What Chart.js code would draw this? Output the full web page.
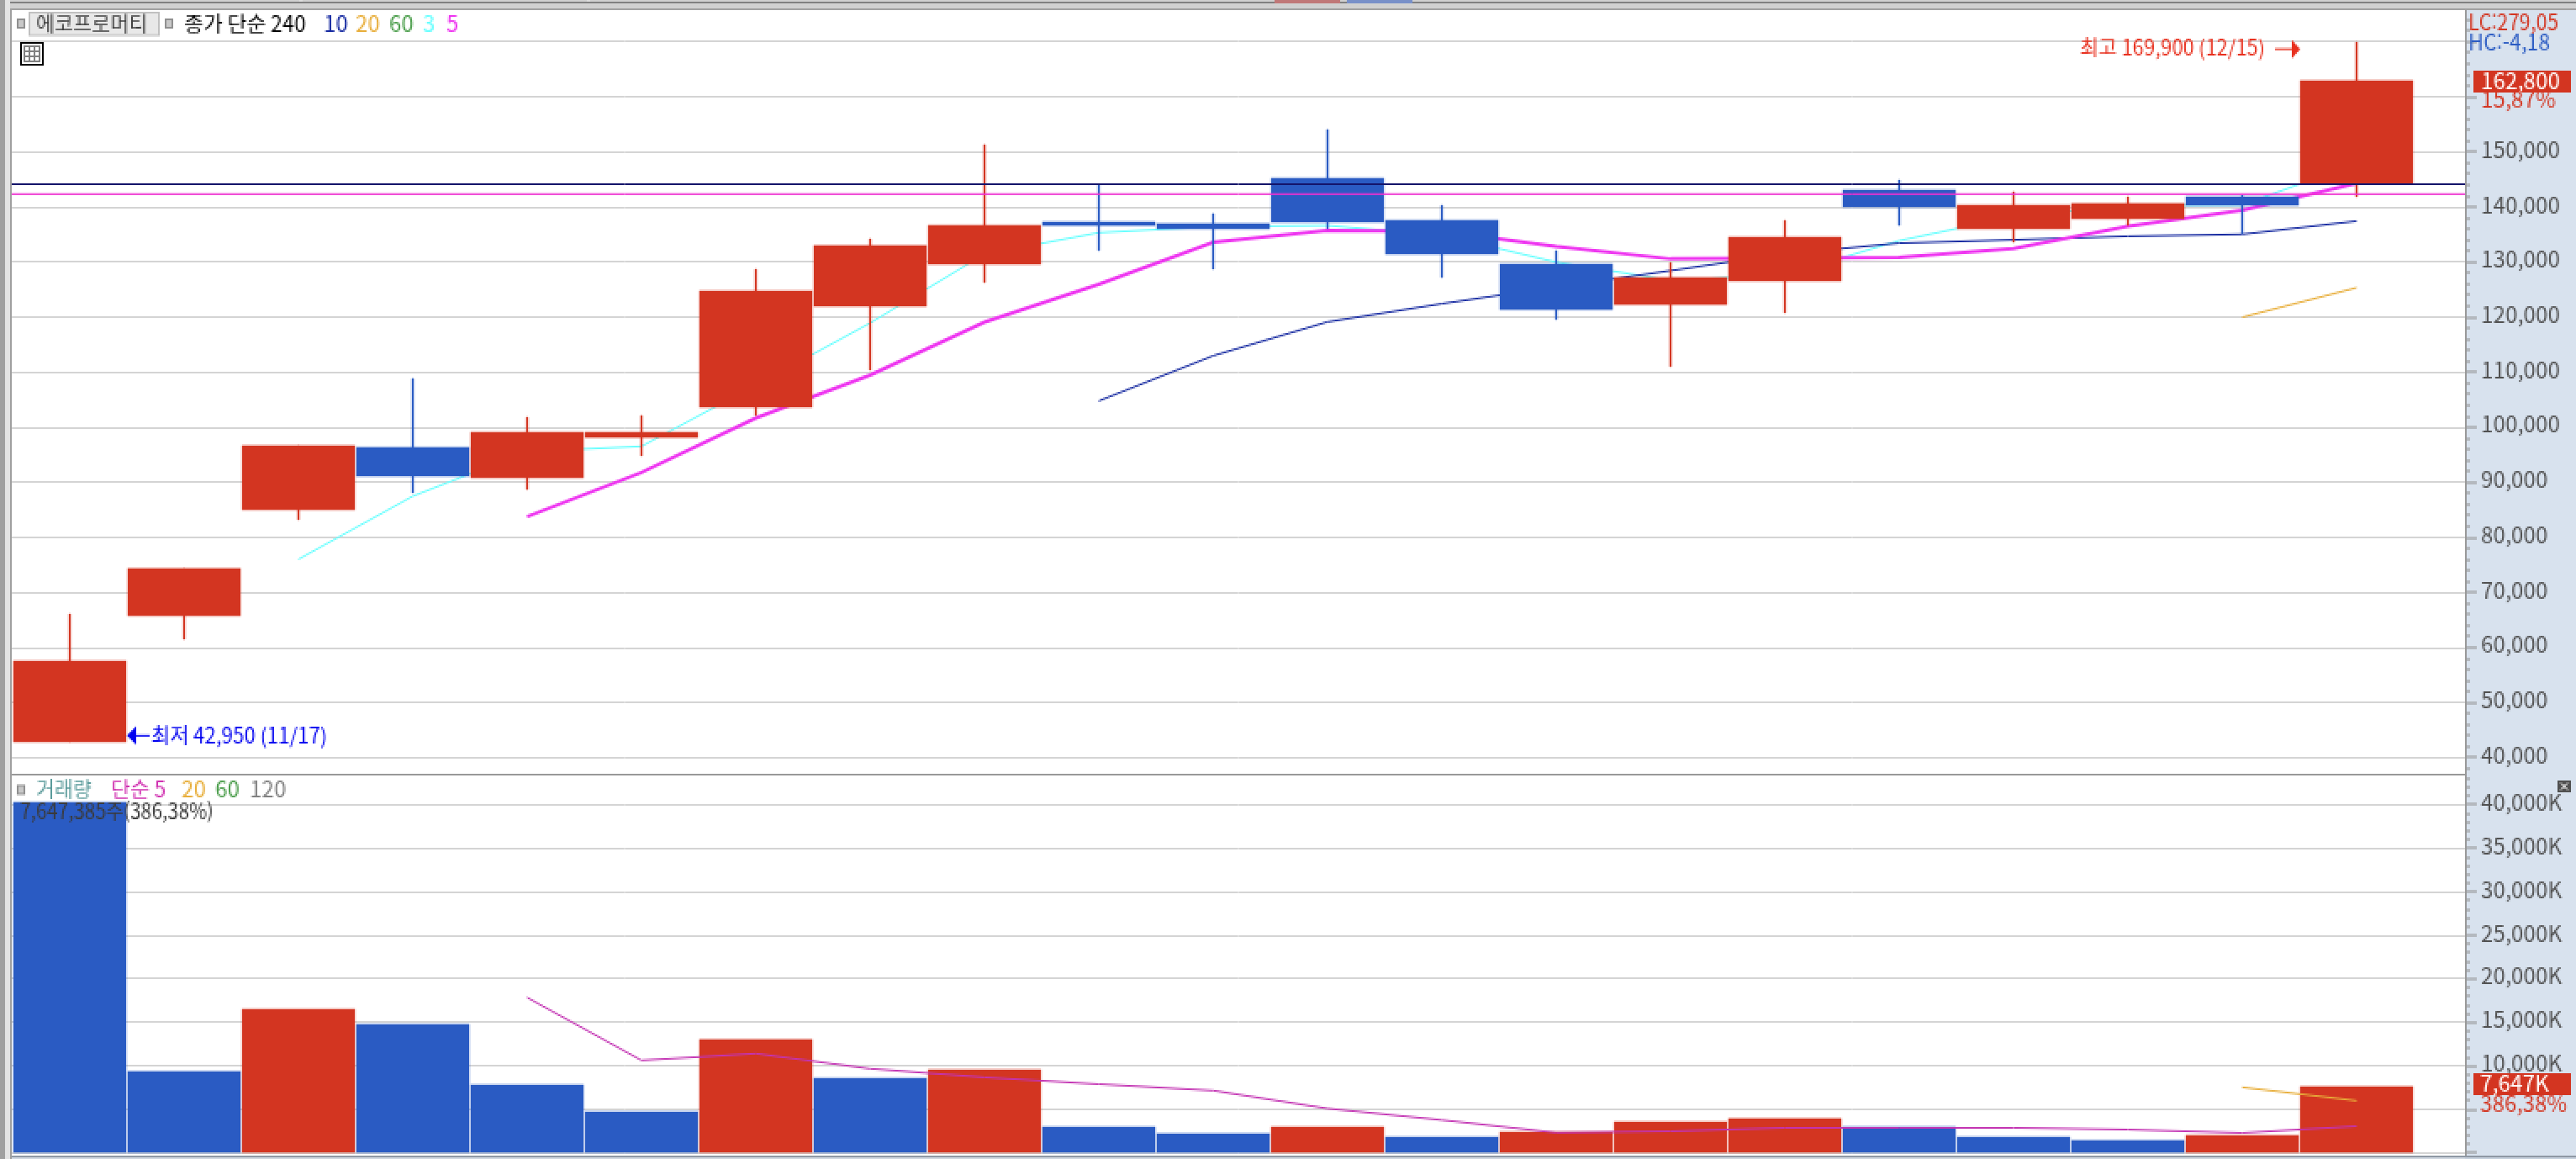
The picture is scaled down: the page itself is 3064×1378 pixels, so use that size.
<!DOCTYPE html>
<html lang="ko">
<head>
<meta charset="utf-8">
<title>에코프로머티</title>
<script src="https://cdn.jsdelivr.net/npm/chart.js@4/dist/chart.umd.min.js"></script>
<style>
html,body{margin:0;padding:0;background:#d8e2ee;width:3064px;height:1378px;overflow:hidden}
canvas{position:absolute;left:0;display:block;image-rendering:pixelated}
#price{top:0}
#volume{top:922px}
</style>
</head>
<body>
<canvas id="price" width="3064" height="922"></canvas>
<canvas id="volume" width="3064" height="456"></canvas>
<script>
// ---------- data ----------
const opens  = [42950,65800,85050,96350,90850,98200,103700,122000,129650,137250,136950,145200,137600,129650,122300,126600,143050,136050,137900,141850,144300];
const closes = [57560,74350,96650,91150,99100,99100,124750,133000,136650,136650,136050,137250,131450,121400,127200,134500,140000,140300,140650,140300,162800];
const highs  = [66100,74350,96650,108870,101850,102150,128700,134200,151300,144150,138800,154050,140300,132100,129950,137600,144900,142750,141850,142150,169900];
const lows   = [42950,61530,83200,88100,88700,94800,102150,110400,126300,132100,128700,136050,127200,119550,111000,120800,136650,133600,136800,135000,141850];
const ma3  = [null,null,76050,87500,95600,96550,107650,118950,131450,135350,136450,136650,134900,130000,126700,127700,133900,138250,140300,140400,147900];
const ma5  = [null,null,null,null,83800,91800,101700,109500,119100,126000,133600,135750,135600,132850,130600,130750,130900,132450,136500,139400,144300];
const ma10 = [null,null,null,null,null,null,null,null,null,104800,113000,119150,122450,125500,128450,131500,133450,134050,134700,135050,137450];
const ma20 = [null,null,null,null,null,null,null,null,null,null,null,null,null,null,null,null,null,null,null,120000,125350];
const levelNavy = 144150;
const levelPink = 142360;
const volumes = [40280,9370,16520,14780,7825,4730,13040,8600,9560,2995,2220,2995,1835,2415,3575,3960,2900,1835,1450,2030,7647];
const volMa5  = [null,null,null,null,17870,10650,11430,9690,8700,7920,7180,5120,3800,2350,2510,2900,2900,2900,2700,2320,3090];
const volMa20 = [null,null,null,null,null,null,null,null,null,null,null,null,null,null,null,null,null,null,null,7560,6020];
const priceTicks = [170000,160000,150000,140000,130000,120000,110000,100000,90000,80000,70000,60000,50000,40000];
const volumeTicks = [40000,35000,30000,25000,20000,15000,10000,5000,0];
const hiddenPriceTicks = [160000,170000];
const hiddenVolumeTicks = [0,5000];
const monthBoundary = [9.5];
const title = '에코프로머티';
const priceLegend = ['종가 단순 240','10','20','60','3','5'];
const volumeLegend = ['거래량','단순 5','20','60','120'];

// ---------- look ----------
const RED='#d33521', BLUE='#2a5bc3', GRID='#d4d4d4', LINE='#999999', AXISBG='#d8e2ee', TICKTXT='#505050';
const MAG='#ee33f0', CYAN='#66ffff', NAVY='#1428a0', ORANGE='#e8ae3a', GREEN='#4a9d4a', PURPLE='#c333b3';
const NUM="'Liberation Sans Narrow','Noto Sans CJK KR',sans-serif";
const F26='26px '+NUM, F25='25px '+NUM;
const KR="24px 'Noto Sans CJK KR',sans-serif";
const xMin=-0.5074, xMax=20.9485;
const idx=opens.map((_,i)=>i);
const series=a=>a.map((v,i)=>({x:i,y:v})).filter(p=>p.y!==null);
const upColor=i=>closes[i]>=opens[i]?RED:BLUE;
const volColor=i=>i>0&&volumes[i]>volumes[i-1]?RED:BLUE;

function text(c,s,x,y,color,font,maxW){
  c.font=font;c.fillStyle=color;c.textAlign='left';c.textBaseline='middle';
  if(maxW)c.fillText(s,x,y,maxW);else c.fillText(s,x,y);
}
function chip(c,x,y){c.fillStyle='#909090';c.fillRect(x,y,10,12);c.fillStyle='#c8c8c8';c.fillRect(x+2,y+2,6,8);}
function axisTicks(c,sc,minor,major){
  c.fillStyle='#909090';
  for(let v=Math.ceil(sc.min/minor)*minor;v<=sc.max;v+=minor){
    const long=Math.abs(v/major-Math.round(v/major))<1e-9;
    c.fillRect(sc.left+2,Math.round(sc.getPixelForValue(v)/2)*2-1,long?12:4,2);
  }
}
function line(label,data,color,width,order){
  return {type:'line',label,data,borderColor:color,borderWidth:width,pointRadius:0,tension:0,fill:false,order,borderCapStyle:'butt',borderJoinStyle:'miter',clip:true};
}
function bar(label,data,colors,w,order){
  return {type:'bar',label,data,backgroundColor:colors,borderWidth:0,grouped:false,barPercentage:1,categoryPercentage:1,maxBarThickness:w,order};
}
function scales(yMin,yMax,tickValues,fmt){
  return {
    x:{type:'linear',min:xMin,max:xMax,offset:false,
       afterBuildTicks:s=>{s.ticks=monthBoundary.map(v=>({value:v}));},
       afterFit:s=>{s.height=0;},
       ticks:{display:false},border:{display:false},
       grid:{color:GRID,lineWidth:2,drawTicks:false}},
    y:{type:'linear',position:'right',min:yMin,max:yMax,
       afterBuildTicks:s=>{s.ticks=tickValues.map(v=>({value:v}));},
       afterFit:s=>{s.width=132;s.paddingTop=0;s.paddingBottom=0;},
       border:{display:true,color:LINE,width:2},
       grid:{color:GRID,lineWidth:2,drawTicks:false},
       ticks:{autoSkip:false,crossAlign:'near',padding:19,labelOffset:-3,color:TICKTXT,
              font:{family:NUM,size:26},callback:fmt}}
  };
}
const base={responsive:false,animation:false,devicePixelRatio:0.5,
  plugins:{legend:{display:false},tooltip:{enabled:false}},events:[]};

// keep bar edges on the 2px block grid of the source screenshot
const snapBars={id:'snapBars',
  afterDatasetsUpdate(ch){
    const snap=v=>Math.round(v/2)*2;
    ch.data.datasets.forEach((d,i)=>{
      if(d.type==='bar')ch.getDatasetMeta(i).data.forEach(el=>{el.y=snap(el.y);el.base=snap(el.base);});
    });
  }
};

// ---------- price pane ----------
const pricePlugin={id:'pricePane',
  beforeDraw(ch){
    const c=ch.ctx,a=ch.chartArea;
    c.save();
    c.fillStyle='#ffffff';c.fillRect(a.left,a.top,a.right-a.left,a.bottom-a.top);
    c.fillStyle=AXISBG;c.fillRect(a.right,a.top,3064-a.right,922-a.top);
    c.fillStyle='#d0d0d0';c.fillRect(0,0,3064,10);
    c.fillStyle='#808080';c.fillRect(12,2,3052,2);
    c.fillStyle='#ececec';c.fillRect(357,0,2,2);c.fillRect(699,0,2,2);
    c.fillStyle='#a0a0a0';c.fillRect(12,10,3052,2);
    c.fillStyle='#c07878';c.fillRect(1516,0,78,4);
    c.fillStyle='#7890c8';c.fillRect(1602,0,78,4);
    c.fillStyle='#e4e4e4';c.fillRect(6,0,6,922);
    c.fillStyle='#a0a0a0';c.fillRect(0,0,6,922);c.fillRect(12,10,2,912);
    c.restore();
  },
  afterDraw(ch){
    const c=ch.ctx,a=ch.chartArea,x=ch.scales.x,y=ch.scales.y;
    c.save();
    c.fillStyle=LINE;c.fillRect(14,920,2920,2);
    axisTicks(c,y,2000,10000);
    chip(c,20,22);
    c.fillStyle='#c0c0c0';c.fillRect(34,14,156,29);c.fillStyle='#e8e8e8';c.fillRect(36,16,152,25);
    text(c,title,43,28,'#3c3c3c',KR,141);
    chip(c,196,22);
    text(c,priceLegend[0],219,28,'#000000',F25,147);
    [[385,NAVY],[423,ORANGE],[463,GREEN],[503,CYAN],[531,MAG]].forEach((p,i)=>text(c,priceLegend[i+1],p[0],28,p[1],F26));
    c.fillStyle='#000000';c.fillRect(24,50,28,28);c.fillStyle='#ffffff';c.fillRect(26,52,24,24);
    c.fillStyle='#808080';c.fillRect(28,54,20,20);
    c.fillStyle='#ffffff';[30,36,42].forEach(px=>[56,62,68].forEach(py=>c.fillRect(px,py,4,4)));
    text(c,'LC:279,05',2936,26,RED,F26,107);
    text(c,'HC:-4,18',2936,50,BLUE,F26,97);
    const last=closes[closes.length-1], lastY=y.getPixelForValue(last);
    c.fillStyle=RED;c.fillRect(2942,Math.round(lastY)-13,116,26);
    text(c,last.toLocaleString('en-US'),2951,lastY-1,'#ffffff',F26);
    text(c,'15,87%',2951,lastY+22,RED,F26);
    // extreme markers, anchored on the scales
    const hi=Math.max(...highs),hiI=highs.indexOf(hi),hiY=y.getPixelForValue(hi)+8,tip=x.getPixelForValue(hiI)-67;
    c.fillStyle='#e8301e';c.fillRect(tip-30,hiY-1,22,2);
    c.beginPath();c.moveTo(tip,hiY);c.lineTo(tip-10,hiY-11);c.lineTo(tip-10,hiY+11);c.closePath();c.fill();
    text(c,'최고 169,900 (12/15)',2474,hiY-2,'#e8301e',F25,220);
    const lo=Math.min(...lows),loI=lows.indexOf(lo),loY=y.getPixelForValue(lo)-7,tip2=x.getPixelForValue(loI)+68;
    c.fillStyle='#0000f0';c.fillRect(tip2+10,loY-1,17,2);
    c.beginPath();c.moveTo(tip2,loY);c.lineTo(tip2+11,loY-11);c.lineTo(tip2+11,loY+11);c.closePath();c.fill();
    text(c,'최저 42,950 (11/17)',180,loY,'#0000f0',F25,209);
    c.restore();
  }
};
new Chart(document.getElementById('price'),{
  type:'bar',
  data:{datasets:[
    line('3',series(ma3),CYAN,2,6),
    line('5',series(ma5),MAG,4,5),
    line('10',series(ma10),NAVY,2,5.5),
    line('20',series(ma20),ORANGE,2,5.5),
    bar('wick',idx.map(i=>({x:i,y:[lows[i],highs[i]]})),idx.map(upColor),2,4),
    bar('body',idx.map(i=>({x:i,y:[opens[i],closes[i]]})),idx.map(upColor),134,3),
    line('navy level',[{x:xMin,y:levelNavy},{x:xMax,y:levelNavy}],'#14146a',2,1),
    line('pink level',[{x:xMin,y:levelPink},{x:xMax,y:levelPink}],'#ee30d0',2,1)
  ]},
  options:{...base,layout:{padding:{left:14,top:12,right:0,bottom:2}},
    scales:scales(37098,175766,priceTicks,v=>hiddenPriceTicks.includes(v)?'':v.toLocaleString('en-US'))},
  plugins:[snapBars,pricePlugin]
});

// ---------- volume pane ----------
const volumePlugin={id:'volumePane',
  beforeDraw(ch){
    const c=ch.ctx,a=ch.chartArea;
    c.save();
    c.fillStyle='#ffffff';c.fillRect(a.left,0,a.right-a.left,456);
    c.fillStyle=AXISBG;c.fillRect(a.right,0,3064-a.right,456);
    c.fillStyle='#e4e4e4';c.fillRect(6,0,6,456);
    c.fillStyle='#a0a0a0';c.fillRect(0,0,6,456);c.fillRect(12,0,2,456);
    c.restore();
  },
  afterDraw(ch){
    const c=ch.ctx,y=ch.scales.y,top=922;
    c.save();
    c.fillStyle='#8f98a4';c.fillRect(14,452,3050,3);
    c.fillStyle=AXISBG;c.fillRect(14,455,3050,1);
    axisTicks(c,y,1000,5000);
    chip(c,20,933-top);
    text(c,volumeLegend[0],43,938-top,'#5a9a9a',KR,70);
    text(c,volumeLegend[1],132,938-top,'#d030b0',F25,67);
    text(c,volumeLegend[2],216,938-top,ORANGE,F26);
    text(c,volumeLegend[3],256,938-top,GREEN,F26);
    text(c,volumeLegend[4],297,938-top,'#808080',F26);
    text(c,'7,647,385주(386,38%)',24,965-top,'#3a3a3a',F25,230);
    c.fillStyle='#505050';c.fillRect(3042,928-top,16,14);
    c.strokeStyle='#ffffff';c.lineWidth=2;c.beginPath();
    c.moveTo(3046,931-top);c.lineTo(3054,939-top);c.moveTo(3054,931-top);c.lineTo(3046,939-top);c.stroke();
    const last=volumes[volumes.length-1],lastY=1289-top;
    c.fillStyle=RED;c.fillRect(2942,lastY-13,116,26);
    text(c,last.toLocaleString('en-US')+'K',2950,lastY-1,'#ffffff',F26);
    text(c,'386,38%',2950,lastY+23,RED,F26);
    c.restore();
  }
};
new Chart(document.getElementById('volume'),{
  type:'bar',
  data:{datasets:[
    bar('거래량',idx.map(i=>({x:i,y:volumes[i]})),idx.map(volColor),134,3),
    line('단순 5',series(volMa5),PURPLE,2,2),
    line('20',series(volMa20),ORANGE,2,2)
  ]},
  options:{...base,layout:{padding:{left:14,top:0,right:0,bottom:4}},
    scales:scales(-290,43373,volumeTicks,v=>hiddenVolumeTicks.includes(v)?'':v.toLocaleString('en-US')+'K')},
  plugins:[snapBars,volumePlugin]
});
</script>
</body>
</html>
